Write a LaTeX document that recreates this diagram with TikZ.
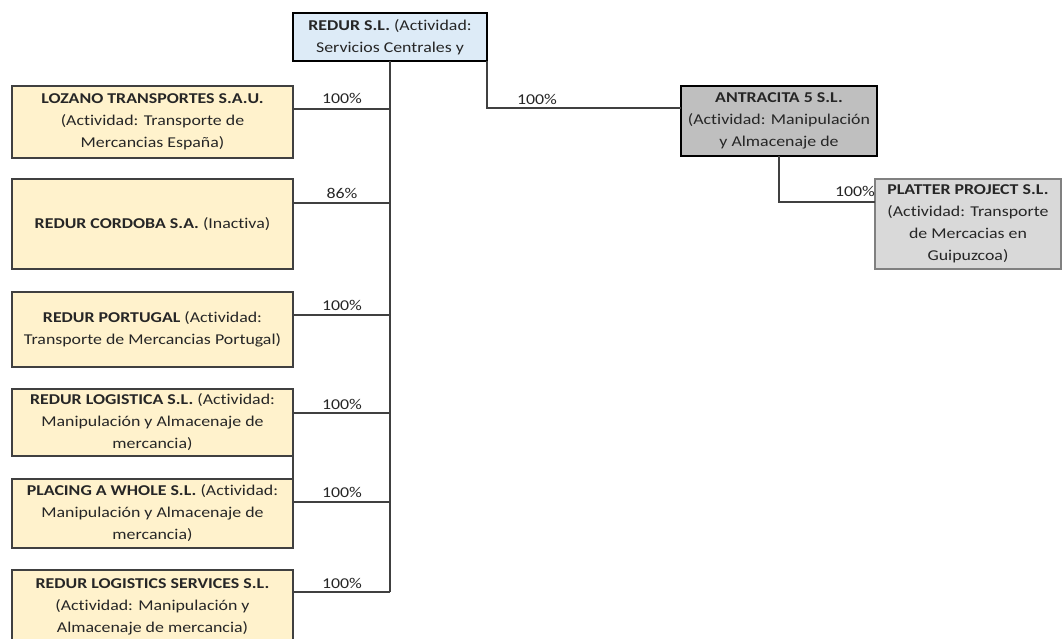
\documentclass[tikz,border=0pt]{standalone}
\usepackage{fontspec}
\setmainfont{Carlito}[FakeStretch=1.19, Ligatures=NoCommon]
\definecolor{lyel}{HTML}{FFF2CC}
\definecolor{lblue}{HTML}{DDEBF7}
\definecolor{dgrey}{HTML}{BFBFBF}
\definecolor{lgrey}{HTML}{D9D9D9}
\definecolor{txt}{HTML}{262626}
\definecolor{lnc}{HTML}{404040}
\begin{document}
\begin{tikzpicture}[x=1pt,y=-1pt,
  every node/.style={font=\fontsize{15}{22}\selectfont, text=txt, inner sep=0pt, outer sep=0pt},
  lbox/.style={draw=lnc, line width=1.3pt, fill=lyel, align=center, minimum width=281pt},
  thickbox/.style={draw=black, line width=2.8pt, align=center},
  greybox/.style={draw=gray, line width=1.3pt, fill=lgrey, align=center},
  conn/.style={draw=lnc, line width=1.2pt},
  pct/.style={anchor=center}
]
\useasboundingbox (0,0) rectangle (1062,639);
\clip (0,0) rectangle (1062,639);
\fill[white] (0,0) rectangle (1062,639);

% top company
\node[thickbox, fill=lblue, minimum width=194pt, minimum height=48pt] (redur) at (390,37)
  {\textbf{REDUR S.L.} (Actividad:\\Servicios Centrales y};

% left column
\node[lbox, minimum height=72pt] (lozano) at (152.5,122)
  {\textbf{LOZANO TRANSPORTES S.A.U.}\\(Actividad: Transporte de\\Mercancias España)};
\node[lbox, minimum height=90pt] (cordoba) at (152.5,224)
  {\textbf{REDUR CORDOBA S.A.} (Inactiva)};
\node[lbox, minimum height=75pt] (portugal) at (152.5,329.5)
  {\textbf{REDUR PORTUGAL} (Actividad:\\Transporte de Mercancias Portugal)};
\node[lbox, minimum height=67pt] (logistica) at (152.5,422.5)
  {\textbf{REDUR LOGISTICA S.L.} (Actividad:\\Manipulación y Almacenaje de\\mercancia)};
\node[lbox, minimum height=69pt] (placing) at (152.5,513.5)
  {\textbf{PLACING A WHOLE S.L.} (Actividad:\\Manipulación y Almacenaje de\\mercancia)};
\node[lbox, minimum height=74pt] (services) at (152.5,607)
  {\textbf{REDUR LOGISTICS SERVICES S.L.}\\(Actividad: Manipulación y\\Almacenaje de mercancia)};

% right side
\node[thickbox, fill=dgrey, minimum width=196pt, minimum height=70pt] (antracita) at (779,121)
  {\textbf{ANTRACITA 5 S.L.}\\(Actividad: Manipulación\\y Almacenaje de};
\node[greybox, minimum width=186pt, minimum height=90pt] (platter) at (968,224)
  {\textbf{PLATTER PROJECT S.L.}\\(Actividad: Transporte\\de Mercacias en\\Guipuzcoa)};

% trunk coordinates
\coordinate (t1) at (390,109);
\coordinate (t2) at (390,203);
\coordinate (t3) at (390,315);
\coordinate (t4) at (390,413);
\coordinate (t5) at (390,502);
\coordinate (t6) at (390,592);
\coordinate (ay) at (0,108);
\coordinate (py) at (0,202);

\draw[conn] (redur.south) -- (t6);
\draw[conn] (t1) -- (t1 -| lozano.east);
\draw[conn] (t2) -- (t2 -| cordoba.east);
\draw[conn] (t3) -- (t3 -| portugal.east);
\draw[conn] (t4) -- (t4 -| logistica.east);
\draw[conn] (t5) -- (t5 -| placing.east);
\draw[conn] (t6) -- (t6 -| services.east);
\draw[conn] (logistica.south east) -- (placing.north east);
\draw[conn] (redur.south east) |- (antracita.west |- ay);
\draw[conn] (antracita.south) |- (platter.west |- py);

% percentages
\node[pct] (l1) at (342,98) {100\%};
\node[pct] (l2) at (342,193) {86\%};
\node[pct] (l3) at (342,305) {100\%};
\node[pct] (l4) at (342,404) {100\%};
\node[pct] (l5) at (342,492) {100\%};
\node[pct] (l6) at (342,583) {100\%};
\node[pct] (l7) at (537,99) {100\%};
\node[pct] (l8) at (855,191) {100\%};
\end{tikzpicture}
\end{document}
